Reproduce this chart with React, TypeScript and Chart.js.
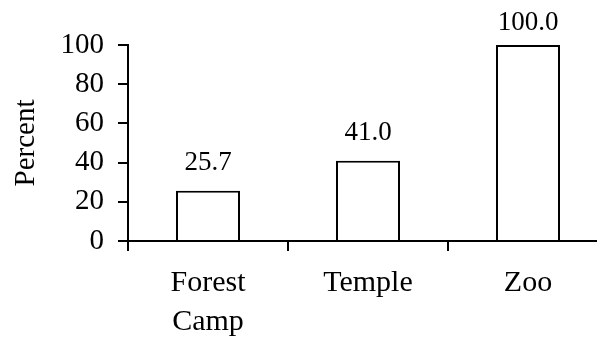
import React, { useEffect, useRef } from "react";
import { Chart, registerables } from "chart.js";

Chart.register(...registerables);

const categories: string[][] = [["Forest", "Camp"], ["Temple"], ["Zoo"]];
const percentValues: number[] = [25.7, 41.0, 100.0];
const yTicks: number[] = [0, 20, 40, 60, 80, 100];

const FONT = "'Liberation Serif', 'Times New Roman', serif";

const valueLabelPlugin = {
  id: "valueLabels",
  afterDatasetsDraw(chart: any) {
    const ctx = chart.ctx;
    const meta = chart.getDatasetMeta(0);
    ctx.save();
    ctx.font = `27px ${FONT}`;
    ctx.fillStyle = "#000";
    ctx.textAlign = "center";
    ctx.textBaseline = "alphabetic";
    meta.data.forEach((bar: any, i: number) => {
      ctx.fillText(percentValues[i].toFixed(1), bar.x, Math.max(bar.y - 21, 30));
    });
    ctx.restore();
  },
};

export default function App() {
  const ref = useRef<HTMLCanvasElement | null>(null);
  useEffect(() => {
    if (!ref.current) return;
    const chart = new Chart(ref.current, {
      type: "bar",
      data: {
        labels: categories,
        datasets: [
          {
            data: percentValues,
            backgroundColor: "#ffffff",
            borderColor: "#000000",
            borderWidth: 2,
            barPercentage: 0.4,
            categoryPercentage: 1.0,
          },
        ],
      },
      options: {
        animation: false,
        responsive: false,
        maintainAspectRatio: false,
        layout: { padding: { top: 45, left: 5, right: 32, bottom: 0 } },
        plugins: { legend: { display: false }, tooltip: { enabled: false } },
        scales: {
          x: {
            grid: {
              offset: true,
              drawOnChartArea: false,
              drawTicks: true,
              tickLength: 10,
              color: "#000",
              lineWidth: 2,
            },
            border: { display: true, color: "#000", width: 2 },
            ticks: {
              color: "#000",
              padding: 13,
              font: { family: FONT, size: 30, lineHeight: 1.3 },
            },
            afterFit(scale: any) {
              scale.height = 99;
            },
          },
          y: {
            min: 0,
            max: 100,
            afterBuildTicks(scale: any) {
              scale.ticks = yTicks.map((v) => ({ value: v }));
            },
            grid: {
              drawOnChartArea: false,
              drawTicks: true,
              tickLength: 10,
              color: "#000",
              lineWidth: 2,
            },
            border: { display: true, color: "#000", width: 2 },
            ticks: {
              color: "#000",
              padding: 14,
              font: { family: FONT, size: 29 },
            },
            title: {
              display: true,
              text: "Percent",
              color: "#000",
              font: { family: FONT, size: 29 },
            },
            afterFit(scale: any) {
              scale.width = 123;
            },
          },
        },
      },
      plugins: [valueLabelPlugin],
    });
    return () => chart.destroy();
  }, []);
  return (
    <div
      style={{
        position: "absolute",
        left: 0,
        top: 0,
        width: 597,
        height: 340,
        overflow: "hidden",
        background: "#fff",
      }}
    >
      <canvas ref={ref} width={640} height={340} style={{ display: "block" }} />
    </div>
  );
}
